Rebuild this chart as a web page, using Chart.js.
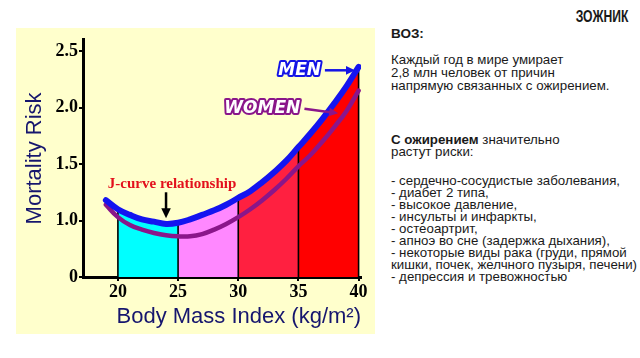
<!DOCTYPE html>
<html>
<head>
<meta charset="utf-8">
<script src="https://cdn.jsdelivr.net/npm/chart.js@4.4.1/dist/chart.umd.min.js"></script>
<style>
  body { margin: 0; width: 640px; height: 358px; background: #fff; position: relative; overflow: hidden;
         font-family: "Liberation Sans", Arial, sans-serif; color: #1a1a1a; }
  #panel { position: absolute; left: 16px; top: 28px; width: 359px; height: 306px; background: #ffffcc; }
  .side { position: absolute; left: 391px; font-size: 13.3px; white-space: nowrap; }
  #brand { position: absolute; right: 12px; top: 8px; font: bold 16px "Liberation Sans", sans-serif; line-height: 18px;
           transform: scaleX(0.76); transform-origin: right center; }
</style>
</head>
<body>
<div id="panel"><canvas id="bmiChart" width="359" height="306"></canvas></div>

<div id="brand">ЗОЖНИК</div>
<div class="side" style="top:26px; font-weight:bold; font-size:13.5px; line-height:16px;">ВОЗ:</div>
<div class="side" style="top:53px; line-height:13px;">
  Каждый год в мире умирает<br>2,8 млн человек от причин<br>напрямую связанных с ожирением.
</div>
<div class="side" style="top:134px; line-height:12px;">
  <b>С ожирением</b> значительно<br>растут риски:
</div>
<div class="side" style="top:175px; line-height:12px;">
  - сердечно-сосудистые заболевания,<br>
  - диабет 2 типа,<br>
  - высокое давление,<br>
  - инсульты и инфаркты,<br>
  - остеоартрит,<br>
  - апноэ во сне (задержка дыхания),<br>
  - некоторые виды рака (груди, прямой<br>
  кишки, почек, желчного пузыря, печени)<br>
  - депрессия и тревожностью
</div>

<script>
// BMI values and mortality risk
const bmi = [19, 20, 21, 22, 23, 24, 25, 26, 27, 28, 29, 30, 31, 32, 33, 34, 35, 36, 37, 38, 39, 40];
const menRisk = [1.18, 1.10, 1.05, 1.01, 0.99, 0.97, 0.98, 1.01, 1.05, 1.09, 1.14, 1.20,
                 1.26, 1.34, 1.43, 1.53, 1.65, 1.77, 1.90, 2.04, 2.19, 2.36];
const womenRisk = [1.14, 1.03, 0.96, 0.92, 0.89, 0.87, 0.86, 0.86, 0.88, 0.92, 0.97, 1.03,
                   1.10, 1.18, 1.27, 1.37, 1.48, 1.58, 1.70, 1.83, 1.97, 2.15];

// BMI bands under the curve
const bandEdges = [20, 25, 30, 35, 40];
const bandColors = ['#00ffff', '#ff88ff', '#ff2040', '#ff0000'];

// axis ticks (bottom of the axis is labelled 0)
const xTicks = [20, 25, 30, 35, 40];
const yTicks = [0.5, 1.0, 1.5, 2.0, 2.5];
const yTickLabels = ['0', '1.0', '1.5', '2.0', '2.5'];

// label anchors in data units
const notes = {
    men: { x: 35.1, y: 2.33, arrowFrom: 37.2, arrowTo: 39.7 },
    women: { x: 32.0, y: 1.99, arrowFrom: 35.5, arrowTo: 38.3, arrowToY: 1.95 },
    jcurve: { x: 24.5, y: 1.32, arrowX: 24, arrowTop: 1.25, arrowBottom: 1.02 }
};

const toPoints = (xs, ys) => xs.map((v, i) => ({ x: v, y: ys[i] }));

const bandSets = bandColors.map((color, i) => ({
    data: toPoints(bmi, menRisk).filter(p => p.x >= bandEdges[i] && p.x <= bandEdges[i + 1]),
    backgroundColor: color,
    borderWidth: 0,
    pointRadius: 0,
    tension: 0.4,
    fill: 'start'
}));

function arrow(ctx, x1, y1, x2, y2, color, head) {
    const a = Math.atan2(y2 - y1, x2 - x1);
    ctx.strokeStyle = color;
    ctx.fillStyle = color;
    ctx.lineWidth = 2.5;
    ctx.beginPath();
    ctx.moveTo(x1, y1);
    ctx.lineTo(x2 - head * 0.8 * Math.cos(a), y2 - head * 0.8 * Math.sin(a));
    ctx.stroke();
    ctx.beginPath();
    ctx.moveTo(x2, y2);
    ctx.lineTo(x2 - head * Math.cos(a - 0.45), y2 - head * Math.sin(a - 0.45));
    ctx.lineTo(x2 - head * Math.cos(a + 0.45), y2 - head * Math.sin(a + 0.45));
    ctx.closePath();
    ctx.fill();
}

function outlined(ctx, text, x, y, color) {
    ctx.font = 'italic bold 17px "DejaVu Sans"';
    ctx.textAlign = 'center';
    ctx.textBaseline = 'middle';
    ctx.lineJoin = 'round';
    ctx.lineWidth = 4;
    ctx.strokeStyle = color;
    ctx.strokeText(text, x, y);
    ctx.fillStyle = '#fff';
    ctx.fillText(text, x, y);
}

const overlay = {
    id: 'overlay',
    beforeDatasetDraw(chart, args) {
        // black band dividers, drawn after the fills and before the curves
        if (args.index !== 1) return;
        const { ctx, scales: { x, y } } = chart;
        ctx.save();
        ctx.strokeStyle = '#000';
        ctx.lineWidth = 1.6;
        bandEdges.forEach(b => {
            const px = x.getPixelForValue(b);
            ctx.beginPath();
            ctx.moveTo(px, y.bottom);
            ctx.lineTo(px, y.getPixelForValue(menRisk[bmi.indexOf(b)]));
            ctx.stroke();
        });
        ctx.restore();
    },
    afterDatasetsDraw(chart) {
        const { ctx, scales: { x, y } } = chart;
        ctx.save();
        const m = notes.men;
        outlined(ctx, 'MEN', x.getPixelForValue(m.x), y.getPixelForValue(m.y), '#1414e6');
        arrow(ctx, x.getPixelForValue(m.arrowFrom), y.getPixelForValue(m.y),
              x.getPixelForValue(m.arrowTo), y.getPixelForValue(m.y), '#1414e6', 10);
        const w = notes.women;
        outlined(ctx, 'WOMEN', x.getPixelForValue(w.x), y.getPixelForValue(w.y), '#8a168a');
        arrow(ctx, x.getPixelForValue(w.arrowFrom), y.getPixelForValue(w.y),
              x.getPixelForValue(w.arrowTo), y.getPixelForValue(w.arrowToY), '#8a168a', 10);
        const j = notes.jcurve;
        ctx.font = 'bold 15px "Liberation Serif"';
        ctx.textAlign = 'center';
        ctx.textBaseline = 'middle';
        ctx.fillStyle = '#e3101c';
        ctx.fillText('J-curve relationship', x.getPixelForValue(j.x), y.getPixelForValue(j.y));
        arrow(ctx, x.getPixelForValue(j.arrowX), y.getPixelForValue(j.arrowTop),
              x.getPixelForValue(j.arrowX), y.getPixelForValue(j.arrowBottom), '#000', 11);
        ctx.restore();
    }
};

new Chart(document.getElementById('bmiChart'), {
    type: 'line',
    data: {
        datasets: [
            { data: toPoints(bmi, menRisk), borderColor: '#1414f0', borderWidth: 6,
              pointRadius: 0, tension: 0.4, fill: false, borderCapStyle: 'round' },
            { data: toPoints(bmi, womenRisk), borderColor: '#8a168a', borderWidth: 4.5,
              pointRadius: 0, tension: 0.4, fill: false, borderCapStyle: 'round' },
            ...bandSets
        ]
    },
    options: {
        responsive: false,
        animation: false,
        layout: { padding: { top: 5, right: 14, left: 0, bottom: 0 } },
        plugins: { legend: { display: false }, tooltip: { enabled: false } },
        scales: {
            x: {
                type: 'linear',
                min: 17.1,
                max: 40.2,
                afterBuildTicks: s => { s.ticks = xTicks.map(v => ({ value: v })); },
                afterFit: s => { s.height = 57; },
                border: { color: '#000', width: 3 },
                grid: { drawOnChartArea: false, color: '#000', lineWidth: 2, tickLength: 4 },
                ticks: { color: '#000', padding: 1, maxRotation: 0,
                         font: { family: '"Liberation Serif"', size: 18, weight: 'bold' } },
                title: { display: true, text: 'Body Mass Index (kg/m²)', align: 'end', color: '#16166e',
                         padding: { bottom: 4 }, font: { family: '"Liberation Sans"', size: 22 } }
            },
            y: {
                type: 'linear',
                min: 0.5,
                max: 2.6,
                afterBuildTicks: s => { s.ticks = yTicks.map(v => ({ value: v })); },
                afterFit: s => { s.width = 67; },
                border: { color: '#000', width: 3 },
                grid: { drawOnChartArea: false, color: '#000', lineWidth: 2, tickLength: 4 },
                ticks: { color: '#000', padding: 1,
                         callback: v => yTickLabels[yTicks.indexOf(v)],
                         font: { family: '"Liberation Serif"', size: 18, weight: 'bold' } },
                title: { display: true, text: 'Mortality Risk', color: '#16166e',
                         padding: { top: 6 }, font: { family: '"Liberation Sans"', size: 22 } }
            }
        }
    },
    plugins: [overlay]
});
</script>
</body>
</html>
